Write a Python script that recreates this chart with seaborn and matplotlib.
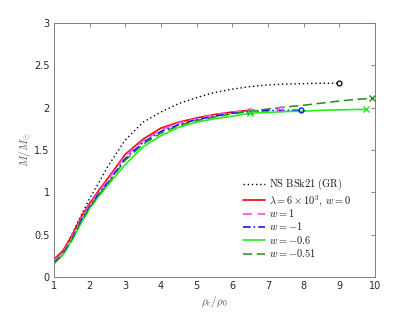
import matplotlib
matplotlib.use("Agg")
import matplotlib.pyplot as plt
import seaborn as sns
import pandas as pd

# ---- data ----
gr_x = [1, 1.25, 1.5, 1.75, 2, 2.25, 2.5, 3, 3.5, 4, 4.5, 5, 5.5, 6, 6.5, 7, 7.5, 8, 8.5, 9]
gr_y = [0.18, 0.30, 0.50, 0.72, 0.93, 1.11, 1.30, 1.62, 1.83, 1.95, 2.05, 2.12, 2.18, 2.22, 2.25, 2.27, 2.28, 2.285, 2.29, 2.29]

red_x = [1, 1.25, 1.5, 1.75, 2, 2.25, 2.5, 3, 3.5, 4, 4.5, 5, 5.5, 6, 6.5]
red_y = [0.21, 0.31, 0.49, 0.70, 0.87, 1.02, 1.16, 1.45, 1.63, 1.76, 1.83, 1.88, 1.92, 1.95, 1.97]

w1_x = [1, 1.25, 1.5, 1.75, 2, 2.25, 2.5, 3, 3.5, 4, 4.5, 5, 5.5, 6, 6.5, 7, 7.33]
w1_y = [0.19, 0.29, 0.47, 0.68, 0.85, 1.00, 1.14, 1.43, 1.61, 1.74, 1.82, 1.87, 1.915, 1.945, 1.965, 1.98, 1.99]

wm1_x = [1, 1.25, 1.5, 1.75, 2, 2.25, 2.5, 3, 3.5, 4, 4.5, 5, 5.5, 6, 6.5, 7, 7.5, 7.92]
wm1_y = [0.17, 0.27, 0.45, 0.66, 0.83, 0.98, 1.11, 1.40, 1.59, 1.72, 1.80, 1.86, 1.90, 1.935, 1.955, 1.965, 1.97, 1.97]

w06_x = [1, 1.25, 1.5, 1.75, 2, 2.25, 2.5, 3, 3.5, 4, 4.5, 5, 5.5, 6, 6.5, 7, 7.5, 8, 8.5, 9, 9.5, 9.74]
w06_y = [0.16, 0.26, 0.43, 0.63, 0.81, 0.95, 1.08, 1.33, 1.54, 1.67, 1.77, 1.83, 1.87, 1.90, 1.935, 1.945, 1.955, 1.96, 1.97, 1.975, 1.98, 1.98]

w051_x = [1, 1.25, 1.5, 1.75, 2, 2.25, 2.5, 3, 3.5, 4, 4.5, 5, 5.5, 6, 6.5, 7, 7.5, 8, 8.5, 9, 9.5, 9.9]
w051_y = [0.16, 0.27, 0.44, 0.65, 0.82, 0.97, 1.10, 1.38, 1.57, 1.70, 1.79, 1.85, 1.89, 1.93, 1.955, 1.985, 2.01, 2.03, 2.055, 2.08, 2.10, 2.11]

labels = [r'$\mathrm{NS\ BSk21\ (GR)}$', r'$\lambda=6\times10^3,\, w=0$', r'$w=1$',
          r'$w=-1$', r'$w=-0.6$', r'$w=-0.51$']
xticks = [1, 2, 3, 4, 5, 6, 7, 8, 9, 10]
yticks = [0, 0.5, 1, 1.5, 2, 2.5, 3]
ytick_labels = ['0', '0.5', '1', '1.5', '2', '2.5', '3']

sns.set_theme(style="white")
plt.rcParams['mathtext.fontset'] = 'cm'
plt.rcParams['font.family'] = ['DejaVu Sans']

fig = plt.figure(figsize=(4.15, 3.12), dpi=100)
ax = fig.add_axes([0.130, 0.112, 0.774, 0.814])

series = [
    (gr_x, gr_y, 'black', (0, (1, 2)), 1.0),
    (red_x, red_y, '#ff0000', '-', 1.2),
    (w1_x, w1_y, '#ff55ff', (0, (5, 3)), 1.3),
    (wm1_x, wm1_y, '#0000ff', (0, (5, 2, 1, 2)), 1.1),
    (w06_x, w06_y, '#22ee22', '-', 1.2),
    (w051_x, w051_y, '#228b22', (0, (6, 3)), 1.1),
]
for xs, ys, c, ls, lw in series:
    df = pd.DataFrame({'x': xs, 'y': ys})
    sns.lineplot(data=df, x='x', y='y', ax=ax, color=c, linestyle=ls, lw=lw,
                 sort=False, estimator=None, legend=False)

# end / special markers
ax.plot(gr_x[-1], gr_y[-1], 'o', mfc='none', mec='black', ms=3.5, mew=0.9)
ax.plot(w1_x[-1], w1_y[-1], 'o', mfc='none', mec='#ff55ff', ms=3.5, mew=0.9)
ax.plot(wm1_x[-1], wm1_y[-1], 'o', mfc='none', mec='#0000ff', ms=3.5, mew=0.9)
ax.plot(w06_x[-1], w06_y[-1], 'x', color='#22ee22', ms=4.5, mew=1.0)
ax.plot(w051_x[-1], w051_y[-1], 'x', color='#228b22', ms=4.5, mew=1.0)
ax.plot(red_x[-1], red_y[-1], 'o', mfc='none', mec='#ff55ff', ms=3, mew=0.8)
ax.plot(w051_x[14], w051_y[14], 'x', color='#228b22', ms=4.5, mew=1.0)
ax.plot(w06_x[14], w06_y[14], 'x', color='#22ee22', ms=4, mew=0.9)

ax.set_xlim(1, 10)
ax.set_ylim(0, 3)
ax.set_xticks(xticks)
ax.set_yticks(yticks)
ax.set_yticklabels(ytick_labels)
ax.tick_params(direction='in', length=3, width=0.6, top=True, right=True,
               labelsize=7, colors='0.45', labelcolor='0.15', pad=3)
for sp in ax.spines.values():
    sp.set_color('0.5')
    sp.set_linewidth(0.7)

ax.set_xlabel(r'$\rho_c/\rho_0$', fontsize=8, color='0.35', labelpad=2)
ax.set_ylabel(r'$M/M_{\odot}$', fontsize=8, color='0.35', labelpad=1)

# legend with uniform row spacing (as in the reference)
row_y = [0.366, 0.302, 0.250, 0.197, 0.144, 0.091]
for i, ((xs, ys, c, ls, lw), lab) in enumerate(zip(series, labels)):
    yy = row_y[i]
    ax.plot([0.589, 0.657], [yy, yy], transform=ax.transAxes, color=c,
            linestyle=ls, lw=lw, clip_on=False)
    ax.text(0.670, yy - 0.012, lab, transform=ax.transAxes, fontsize=7.5,
            va='baseline', ha='left', color='0.1')

fig.savefig('out.png', dpi=100)
